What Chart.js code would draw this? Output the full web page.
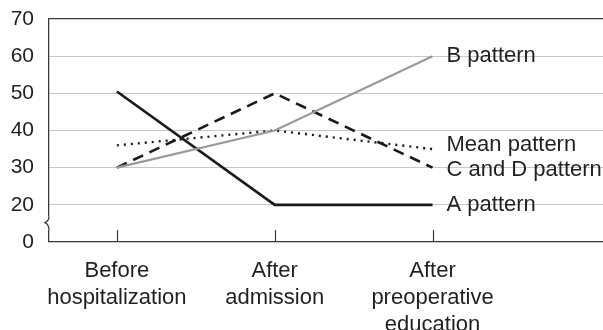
<!DOCTYPE html>
<html>
<head>
<meta charset="utf-8">
<script src="https://cdn.jsdelivr.net/npm/chart.js@4/dist/chart.umd.min.js"></script>
<style>
html,body{margin:0;padding:0;background:#fff;}
canvas{display:block;}
</style>
</head>
<body>
<canvas id="c" width="603" height="330"></canvas>
<script>
const categories = [["Before","hospitalization"],["After","admission"],["After","preoperative","education"]];
const seriesNames = ["B pattern","Mean pattern","C and D pattern","A pattern"];
const bPattern = [30, 40, 60];
const meanPattern = [36, 40, 35];
const cdPattern = [30, 50, 30];
const aPattern = [50.5, 20, 20];
const yTickValues = [10, 20, 30, 40, 50, 60, 70];
const yTickLabels = ["0", "20", "30", "40", "50", "60", "70"];

const FONT = "'Liberation Sans', Arial, Helvetica, sans-serif";
const TEXT = '#231f20';
const AXIS = '#3a3a3a';

function pts(arr){ return arr.map((v,i)=>({x:i,y:v})); }

const labelNudge = {"B pattern":0, "Mean pattern":-4, "C and D pattern":2, "A pattern":0};

const decor = {
  id:'decor',
  afterDraw(chart){
    const ctx = chart.ctx;
    const xs = chart.scales.x, ys = chart.scales.y;
    const area = chart.chartArea;
    ctx.save();
    ctx.strokeStyle = AXIS; ctx.lineWidth = 1.2;
    categories.forEach((c,i)=>{
      const px = Math.round(xs.getPixelForValue(i))+0.5;
      ctx.beginPath(); ctx.moveTo(px, area.bottom); ctx.lineTo(px, area.bottom-12); ctx.stroke();
    });
    const ax = area.left;
    const yTop = ys.getPixelForValue(16.8), yMid = ys.getPixelForValue(15.2), yBot = ys.getPixelForValue(13.2);
    ctx.fillStyle = '#fff';
    ctx.fillRect(ax-2, yTop, 4, yBot-yTop);
    ctx.beginPath();
    ctx.lineWidth = 1.3;
    ctx.moveTo(ax, yTop);
    ctx.quadraticCurveTo(ax, yMid-2, ax-4, yMid);
    ctx.quadraticCurveTo(ax, yMid+2, ax, yBot);
    ctx.stroke();
    ctx.fillStyle = TEXT;
    ctx.font = '22px ' + FONT;
    ctx.textAlign = 'left'; ctx.textBaseline = 'middle';
    chart.data.datasets.forEach(ds=>{
      const last = ds.data[ds.data.length-1];
      const px = xs.getPixelForValue(last.x) + 14;
      const py = ys.getPixelForValue(last.y) + (labelNudge[ds.label]||0);
      ctx.fillText(ds.label, px, py);
    });
    ctx.restore();
  }
};

new Chart(document.getElementById('c'), {
  type:'line',
  data:{
    datasets:[
      {label:seriesNames[0], data:pts(bPattern), borderColor:'#9a9a9a', borderWidth:2.2, pointRadius:0, tension:0},
      {label:seriesNames[1], data:pts(meanPattern), borderColor:'#1a1a1a', borderWidth:2.4, borderDash:[2,5], pointRadius:0, tension:0},
      {label:seriesNames[2], data:pts(cdPattern), borderColor:'#1a1a1a', borderWidth:2.6, borderDash:[11,7], pointRadius:0, tension:0},
      {label:seriesNames[3], data:pts(aPattern), borderColor:'#1a1a1a', borderWidth:2.6, pointRadius:0, tension:0}
    ]
  },
  options:{
    responsive:false,
    animation:false,
    events:[],
    layout:{padding:{top:19,left:0,right:0,bottom:0}},
    plugins:{legend:{display:false}, tooltip:{enabled:false}},
    scales:{
      x:{
        type:'linear', min:-0.43, max:3.08,
        afterBuildTicks(s){ s.ticks = categories.map((c,i)=>({value:i})); },
        afterFit(s){ s.height = 88; s.paddingLeft = 0; s.paddingRight = 0; },
        grid:{display:false, drawTicks:false},
        border:{display:true, color:AXIS, width:1.3},
        ticks:{
          callback:(v)=>categories[v],
          color:TEXT, font:{family:FONT, size:22, lineHeight:1.23}, padding:15,
          maxRotation:0, autoSkip:false
        }
      },
      y:{
        min:10, max:70,
        afterBuildTicks(s){ s.ticks = yTickValues.map(v=>({value:v})); },
        afterFit(s){ s.width = 49; s.paddingTop = 0; s.paddingBottom = 0; },
        grid:{
          drawTicks:false,
          color:(c)=> (c.tick && c.tick.value===70) ? AXIS : (c.tick && c.tick.value===10 ? 'rgba(0,0,0,0)' : '#c8c8c8'),
          lineWidth:(c)=> (c.tick && c.tick.value===70) ? 1.3 : 1.1
        },
        border:{display:true, color:AXIS, width:1.3},
        ticks:{
          callback:(v)=>yTickLabels[yTickValues.indexOf(v)],
          color:TEXT, font:{family:FONT, size:21}, padding:15
        }
      }
    }
  },
  plugins:[decor]
});
</script>
</body>
</html>
